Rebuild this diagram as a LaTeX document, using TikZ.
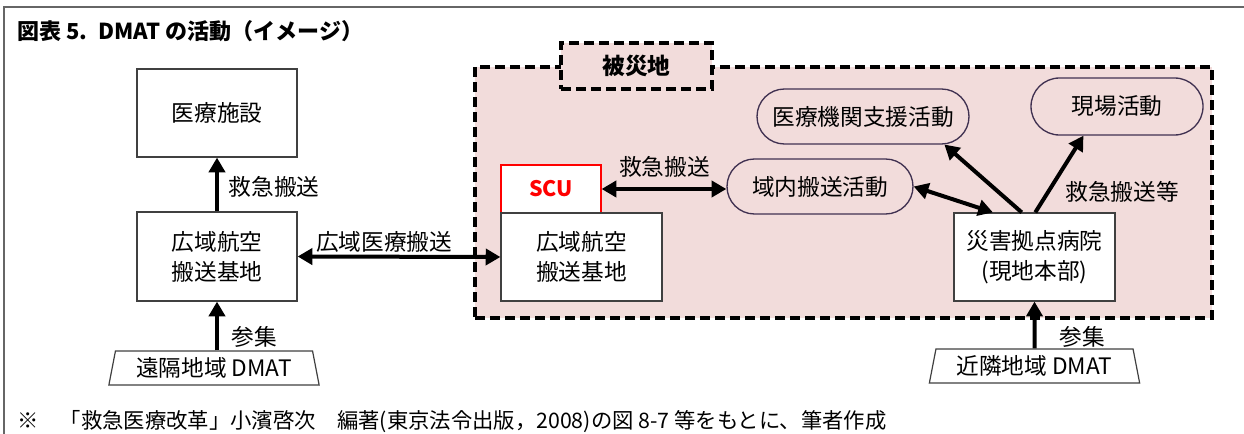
\documentclass[tikz,border=0pt]{standalone}
\usepackage{fontspec}
\setmainfont{Noto Sans CJK JP}
\usetikzlibrary{arrows.meta,shapes.geometric,shapes.misc}
\definecolor{pinkfill}{HTML}{F2DCDB}
\definecolor{pillline}{HTML}{403151}
\definecolor{boxline}{HTML}{404040}
\definecolor{frameline}{HTML}{666666}
\definecolor{scured}{HTML}{FF0000}
\tikzset{
  boxfont/.style={font=\fontsize{17pt}{22.5pt}\selectfont},
  whitebox/.style={boxfont, draw=boxline, line width=0.9pt, fill=white, inner sep=0pt, align=center},
  pill/.style={boxfont, rounded rectangle, draw=pillline, line width=1pt, inner sep=0pt},
  trapbox/.style={boxfont, trapezium, trapezium stretches=true, trapezium left angle=76, trapezium right angle=76,
     draw=boxline, line width=0.9pt, fill=white, inner sep=0pt, minimum width=158pt, minimum height=25.5pt},
  dashline/.style={line width=2.4pt, dash pattern=on 7.5pt off 3.75pt},
  arr/.style={line width=3pt, -{Triangle[length=11pt,width=12pt]}},
  darr/.style={line width=3pt, {Triangle[length=11pt,width=12pt]}-{Triangle[length=11pt,width=12pt]}},
  lbl/.style={boxfont, inner sep=0pt}
}
\begin{document}
\begin{tikzpicture}[x=0.75pt,y=-0.75pt]
\useasboundingbox (0,0) rectangle (1244,434);
% outer frame
\draw[frameline, line width=1pt] (4,434) -- (4,7) -- (1244,7);
% title
\node[anchor=west, inner sep=0pt, font=\fontsize{16.5pt}{20pt}\selectfont\bfseries] (title) at (17,31) {図表 5.\enspace DMAT の活動（イメージ）};
% disaster region
\node[draw=black, dashline, fill=pinkfill, minimum width=552.75pt, minimum height=188.25pt, inner sep=0pt] (region) at (843.5,192.5) {};
\node[draw=black, dashline, fill=pinkfill, minimum width=113.25pt, minimum height=34.5pt, inner sep=0pt,
      font=\fontsize{17pt}{20pt}\selectfont\bfseries] (hisai) at (636.5,66) {被災地};
% left side
\node[whitebox, minimum width=120pt, minimum height=66pt] (med) at (217,113) {医療施設};
\node[whitebox, minimum width=120pt, minimum height=66.75pt] (lbase) at (217,256.5) {広域航空\\搬送基地};
\node[trapbox] (trapL) at (214,368) {遠隔地域 DMAT};
% right side boxes
\node[whitebox, draw=scured, minimum width=75pt, minimum height=36pt, text=scured,
      font=\fontsize{16pt}{20pt}\selectfont\bfseries] (scu) at (551,189) {SCU};
\node[whitebox, minimum width=120.75pt, minimum height=66pt] (rbase) at (581.5,257) {広域航空\\搬送基地};
\node[whitebox, minimum width=120.75pt, minimum height=66pt] (hosp) at (1034.5,257) {災害拠点病院\\(現地本部)};
\node[trapbox] (trapR) at (1034.5,366) {近隣地域 DMAT};
% pills
\node[pill, minimum width=139.5pt, minimum height=41.25pt] (inner) at (820,186.5) {域内搬送活動};
\node[pill, minimum width=159pt, minimum height=41.25pt] (medsup) at (863,116.5) {医療機関支援活動};
\node[pill, minimum width=129pt, minimum height=42.75pt] (site) at (1117,106.5) {現場活動};
% connectors
\draw[arr] (lbase) -- (med);
\draw[arr] (trapL.north -| lbase.south) -- (lbase.south);
\draw[darr] (lbase.east) -- (rbase.west);
\draw[darr] (scu.east) -- (scu.east -| inner.west);
\draw[darr] (hosp.133) -- (inner.east);
\draw[arr] (hosp.106) -- (medsup.341);
\draw[arr] (hosp.89) -- (site.221);
\draw[arr] (trapR.north) -- (hosp.south);
% labels
\node[lbl] (l1) at (274,187) {救急搬送};
\node[lbl] (l2) at (254.5,337) {参集};
\node[lbl] (l3) at (384,242) {広域医療搬送};
\node[lbl] (l4) at (664.5,167) {救急搬送};
\node[lbl] (l5) at (1122,192) {救急搬送等};
\node[lbl] (l6) at (1082.5,337) {参集};
% footnote
\node[anchor=west, inner sep=0pt, font=\fontsize{16pt}{18pt}\selectfont] (foot) at (17,422)
  {※　「救急医療改革」小濱啓次　編著(東京法令出版，2008)の図 8-7 等をもとに、筆者作成};
\end{tikzpicture}
\end{document}
